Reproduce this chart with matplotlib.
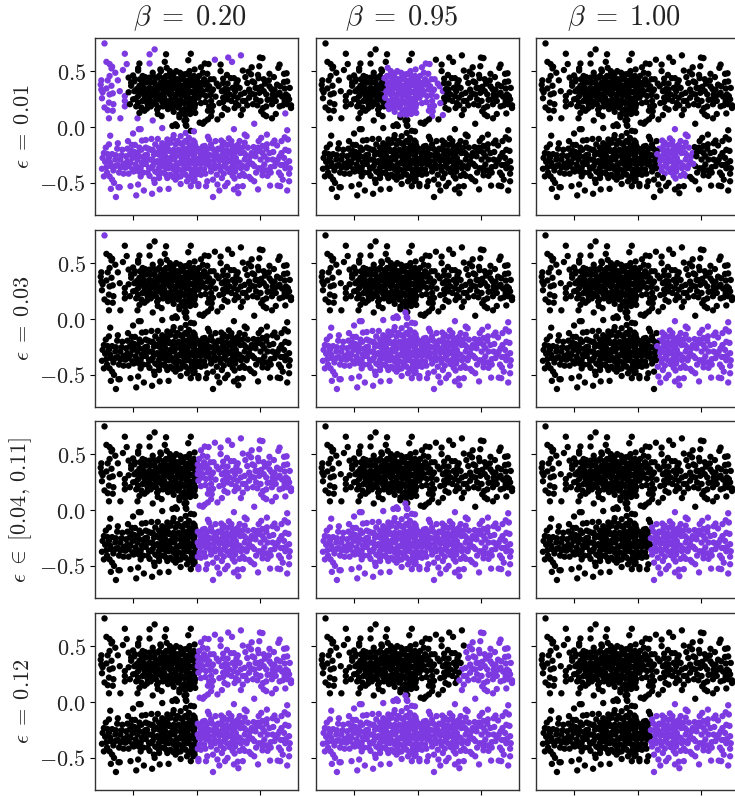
import numpy as np
import matplotlib
matplotlib.use("Agg")
import matplotlib.pyplot as plt

plt.rcParams['mathtext.fontset'] = 'cm'
plt.rcParams['font.family'] = ['DejaVu Serif']

BLACK = '#000000'
PURPLE = '#7c3ae0'

betas = ['0.20', '0.95', '1.00']
eps_labels = [r'$\epsilon\;=\;0.01$', r'$\epsilon\;=\;0.03$',
              r'$\epsilon\;\in\;[0.04,\,0.11]$', r'$\epsilon\;=\;0.12$']
yticks = [-0.5, 0.0, 0.5]
ytick_labels = [r'$-0.5$', r'$0.0$', r'$0.5$']
xticks = [-1, 0, 1]

# readings were taken with a 108.5 px ruler; the axis unit is 111.5 px
READING_SCALE = 108.5 / 111.5

upper_left = [
 (-1.45,.77),(-1.13,.675),(-.74,.67),(-.66,.715),(-.48,.67),(-.09,.675),(-.13,.615),(-1.42,.60),(-1.37,.58),(-1.33,.555),
 (-1.34,.54),(-1.10,.58),(-1.16,.525),(-.90,.585),(-.92,.54),(-.74,.585),(-.50,.60),(-.47,.545),(-.57,.53),(-1.50,.43),
 (-1.51,.39),(-1.50,.345),(-1.37,.47),(-1.40,.43),(-1.28,.50),(-1.24,.43),(-1.34,.38),(-1.48,.32),(-1.49,.265),(-1.42,.355),
 (-1.37,.30),(-1.32,.31),(-1.21,.33),(-1.13,.285),(-1.13,.24),(-1.13,.19),(-1.31,.21),(-1.38,.225),(-1.45,.18),(-1.40,.155),
 (-1.32,.15),(-1.38,.08),(-1.20,.08),(-.93,.08),(-.69,.06),(-.61,.12),(-.55,.10),(-.27,.09),(-.16,.065),
 (-1.07,.455),(-1.0,.475),(-.92,.52),(-.85,.47),(-1.03,.41),(-.98,.33),(-1.0,.255),(-.95,.19),(-.87,.18),(-.85,.24),(-.92,.285),
 (-.90,.38),(-.79,.41),(-.74,.455),(-.79,.32),(-.74,.36),(-.74,.255),(-.66,.285),(-.72,.19),(-.64,.21),(-.61,.455),(-.56,.515),
 (-.66,.41),(-.58,.355),(-.50,.38),(-.42,.515),(-.32,.515),(-.48,.47),(-.37,.455),(-.45,.315),(-.37,.36),(-.56,.27),(-.48,.24),
 (-.40,.255),(-.45,.165),(-.32,.30),(-.27,.44),(-.19,.485),(-.11,.515),(-.03,.53),(-.215,.38),(-.14,.425),(-.06,.455),(-.005,.39),
 (-.11,.33),(-.03,.33),(-.24,.24),(-.16,.27),(-.08,.255),(-.005,.285),(-.29,.18),(-.19,.165),(-.11,.19),(-.03,.18),(-.27,.115),
 (-.14,.13),(-.35,.41),(-.27,.33),(-.50,.425),(-.40,.425),(-.635,.33),(-.845,.33),(-.92,.225),(-.82,.15),(-1.05,.21),(-1.07,.32),
 (-1.03,.38),(-.32,.225),(-.40,.19),(-.53,.19),(-.61,.255),(-.66,.35),(-.56,.41),(-.425,.38),(-.32,.36),(-.16,.345),(-.24,.485),
 (-.69,.50),(-.82,.285),(-.90,.13),(-.84,.42),(-.70,.30),(-.52,.31),(-.60,.18),(-.36,.14),(-.22,.30),(-.08,.40),(-.04,.24),
 (-.13,.22),(-.42,.30),(-.28,.40),(-.18,.43),(-.62,.38),(-.77,.21),(-.88,.35),(-.97,.44),(-.10,.47),(-.02,.44),(-.35,.21),
 (-.98,.42),(-.94,.35),(-.96,.26),(-.90,.31),(-.89,.44),(-.86,.40),(-.83,.36),(-.81,.46),(-.80,.24),(-.78,.17),(-.76,.30),(-.72,.41),
 (-.71,.33),(-.69,.23),(-.67,.46),(-.65,.37),(-.63,.27),(-.62,.16),(-.59,.47),(-.58,.30),(-.55,.36),(-.54,.23),(-.52,.45),(-.51,.27),
 (-.49,.33),(-.47,.20),(-.46,.41),(-.44,.47),(-.43,.35),(-.42,.23),(-.39,.31),(-.38,.17),(-.36,.49),(-.34,.39),(-.33,.27),(-.31,.44),
 (-.30,.34),(-.29,.24),(-.27,.20),(-.26,.50),(-.25,.37),(-.24,.29),(-.23,.15),(-.21,.44),(-.20,.33),(-.19,.22),(-.18,.11),(-.17,.38),
 (-.15,.49),(-.14,.30),(-.13,.17),(-.12,.38),(-.11,.26),(-.10,.12),(-.09,.44),(-.08,.32),(-.07,.21),(-.06,.15),(-.05,.38),(-.04,.47),
 (-.03,.28),(-.02,.21),(-.01,.35),(-.02,.13),
]

upper_right = [
 (.70,.66),(.50,.64),(.56,.60),(1.00,.64),(1.04,.635),(.29,.62),(.13,.585),(.19,.58),(.07,.55),(.38,.575),(.38,.515),(1.31,.575),
 (1.29,.545),(.73,.52),(.87,.55),(.99,.56),(.82,.51),(.86,.485),(.97,.48),(1.15,.49),(1.22,.46),(1.38,.49),(1.42,.495),(.10,.50),
 (.17,.49),(.48,.48),(.42,.445),(.27,.44),(.54,.45),(.59,.45),(.65,.43),(.80,.405),(.91,.41),(.98,.45),(1.08,.40),(1.15,.375),
 (1.43,.42),(1.38,.415),(1.27,.39),(1.32,.375),(.20,.375),(.13,.39),(.08,.405),(.35,.375),(.42,.405),(.49,.40),(.60,.365),(.70,.30),
 (.76,.315),(.83,.345),(.93,.36),(1.02,.37),(1.23,.345),(1.39,.355),(.10,.33),(.18,.345),(.26,.345),(.40,.33),(.49,.345),(.61,.33),
 (.99,.315),(.91,.30),(1.10,.30),(1.20,.30),(1.31,.315),(1.44,.285),(1.46,.255),(.15,.285),(.22,.295),(.42,.27),(.49,.255),(.59,.285),
 (.65,.27),(.83,.27),(.94,.255),(1.01,.24),(1.17,.255),(1.23,.285),(1.39,.24),(.23,.24),(.42,.23),(.62,.22),(.73,.24),(.89,.21),
 (1.19,.21),(1.31,.19),(1.49,.20),(1.49,.175),(1.43,.21),(.20,.19),(.26,.195),(.44,.175),(.49,.16),(.60,.175),(.73,.16),(1.05,.175),
 (1.10,.19),(1.02,.145),(.18,.15),(.24,.145),(.70,.11),(1.06,.115),(1.10,.10),(1.19,.08),(1.25,.12),(1.40,.125),(.23,.10),(.18,.07),
 (.40,.11),(.33,.07),(.05,.04),(.10,.03),(.13,.05),(.91,.03),(.02,.42),(.02,.33),(.03,.27),(.04,.47),(.06,.36),(.07,.22),
 (.03,.37),(.08,.30),(.12,.44),(.14,.23),(.16,.41),(.22,.44),(.24,.33),(.30,.28),(.32,.40),(.36,.22),(.45,.35),(.47,.30),(.52,.30),
 (.55,.24),(.57,.36),(.63,.40),(.66,.20),(.68,.36),(.77,.24),(.80,.20),(.86,.31),(.88,.42),(.96,.36),(.96,.20),(1.06,.33),(1.12,.25),
 (1.14,.43),(1.25,.24),(1.28,.30),(1.35,.28),(1.36,.20),(1.41,.30),(1.47,.36),(1.06,.44),(.77,.46),(1.18,.35),
]

lower_left = [
 (-.19,.06),(-.17,.02),(-.16,.01),(-.33,.025),(-.91,-.02),(-.88,-.02),(-.54,-.01),(-.38,.01),(-.31,.01),(-1.36,-.08),(-1.0,-.06),(-1.08,-.13),
 (-1.24,-.15),(-.86,-.125),(-.80,-.12),(-.71,-.11),(-.61,-.11),(-.46,-.115),(-.36,-.075),(-.37,-.105),(-.25,-.085),(-.17,-.055),
 (-.09,-.035),(-.04,-.04),(-.05,-.125),(-.18,-.13),(-.41,-.145),(-.33,-.16),(-1.38,-.16),(-1.43,-.19),(-1.46,-.24),(-1.48,-.285),
 (-1.44,-.32),(-1.49,-.385),(-1.46,-.455),(-1.41,-.42),(-1.37,-.455),(-1.33,-.485),(-1.30,-.515),(-1.22,-.42),(-1.20,-.375),(-1.28,-.36),
 (-1.35,-.36),(-1.38,-.285),(-1.33,-.25),(-1.28,-.30),(-1.20,-.30),(-1.25,-.20),(-1.17,-.21),(-1.09,-.20),(-1.02,-.22),(-.97,-.165),
 (-.93,-.24),(-1.01,-.285),(-1.09,-.315),(-.96,-.345),(-1.07,-.36),(-1.12,-.375),(-.88,-.375),(-.83,-.34),(-.93,-.30),(-1.07,-.43),
 (-.88,-.455),(-.74,-.45),(-.66,-.515),(-.67,-.485),(-.59,-.47),(-.46,-.47),(-.25,-.525),(-.09,-.545),(-1.35,-.57),(-1.23,-.555),
 (-1.21,-.555),(-1.27,-.645),(-1.04,-.545),(-.92,-.53),(-.95,-.63),(-.83,-.585),(-.70,-.615),(-.58,-.575),(-.44,-.57),
 (-.72,-.21),(-.78,-.255),(-.67,-.255),(-.80,-.19),(-.59,-.19),(-.51,-.19),(-.46,-.16),(-.59,-.255),(-.51,-.24),(-.44,-.22),(-.36,-.21),
 (-.28,-.21),(-.20,-.20),(-.12,-.19),(-.04,-.21),(-.70,-.30),(-.62,-.315),(-.51,-.30),(-.41,-.285),(-.33,-.27),(-.25,-.27),(-.17,-.27),
 (-.12,-.25),(-.04,-.27),(-.69,-.36),(-.59,-.375),(-.48,-.375),(-.39,-.36),(-.31,-.345),(-.22,-.34),(-.13,-.36),(-.04,-.33),(-.59,-.44),
 (-.51,-.42),(-.41,-.44),(-.32,-.42),(-.25,-.455),(-.17,-.44),(-.09,-.455),(-.03,-.485),(-.15,-.50),(-.33,-.485),(-.78,-.30),(-.91,-.41),
 (-.75,-.375),(-.99,-.41),(-.83,-.285),(-.90,-.19),(-1.02,-.165),(-.02,-.39),(-.09,-.39),(-.20,-.39),(-.28,-.39),(-.36,-.39),(-.23,-.30),
 (-.15,-.31),(-.04,-.30),(-.46,-.33),(-.54,-.33),(-.65,-.41),(-.30,-.13),(-.22,-.16),(-.12,-.10),(-.54,-.15),(-.65,-.16),(-.03,-.14),
 (-1.40,-.25),(-1.36,-.33),(-1.42,-.37),(-1.31,-.40),(-1.27,-.26),(-1.24,-.35),(-1.18,-.26),(-1.15,-.34),(-1.15,-.43),(-1.11,-.27),
 (-1.05,-.25),(-1.04,-.33),(-1.01,-.39),(-.98,-.23),(-.96,-.28),(-.94,-.37),(-.90,-.27),(-.87,-.21),(-.86,-.33),(-.84,-.42),(-.81,-.26),
 (-.80,-.34),(-.77,-.42),(-.76,-.20),(-.74,-.30),(-.72,-.38),(-.69,-.21),(-.67,-.33),(-.63,-.24),(-.62,-.42),(-.60,-.33),(-.57,-.22),
 (-.55,-.29),(-.55,-.42),(-.52,-.36),(-.49,-.27),(-.48,-.44),(-.45,-.20),(-.44,-.38),(-.42,-.31),(-.38,-.24),(-.37,-.46),(-.35,-.30),
 (-.33,-.36),(-.31,-.22),(-.29,-.46),(-.27,-.33),(-.25,-.15),(-.24,-.24),(-.22,-.42),(-.20,-.33),(-.18,-.23),(-.16,-.38),(-.14,-.14),
 (-.13,-.30),(-.12,-.47),(-.10,-.22),(-.09,-.33),(-.07,-.17),(-.07,-.42),(-.05,-.50),(-.03,-.24),(-.02,-.35),(-.02,-.17),(-.01,-.44),
]

lower_right = [
 (.59,-.02),(1.43,-.03),(.76,-.07),(.79,-.085),(1.11,-.07),(1.02,-.10),(.98,-.13),(.51,-.105),(.18,-.09),(.20,-.115),(.30,-.13),(.39,-.125),
 (.43,-.145),(.49,-.165),(.68,-.13),(.76,-.145),(.65,-.165),(.57,-.175),(1.23,-.125),(1.39,-.095),(1.34,-.13),(1.44,-.115),(1.20,-.15),
 (1.11,-.16),(1.04,-.175),(.90,-.185),(.97,-.19),(.81,-.19),(.13,-.175),(.17,-.20),(.23,-.16),(.34,-.20),(.39,-.21),(.47,-.215),(.56,-.21),
 (.62,-.20),(.69,-.24),(.75,-.24),(.87,-.24),(.94,-.23),(1.04,-.24),(1.21,-.23),(1.40,-.21),(1.34,-.24),(1.38,-.285),(1.28,-.30),(1.20,-.30),
 (1.12,-.30),(1.01,-.30),(.13,-.24),(.18,-.25),(.26,-.26),(.34,-.27),(.47,-.285),(.57,-.27),(.62,-.285),(.76,-.30),(.83,-.315),(.05,-.285),
 (.10,-.30),(.20,-.315),(.28,-.30),(.39,-.30),(.49,-.32),(.57,-.33),(.68,-.33),(.91,-.36),(1.07,-.345),(1.17,-.37),(1.33,-.35),(1.41,-.34),
 (1.46,-.315),(.07,-.34),(.18,-.345),(.28,-.345),(.36,-.36),(.44,-.36),(.55,-.375),(.62,-.37),(.73,-.36),(.81,-.35),(1.04,-.375),(1.23,-.36),
 (.05,-.39),(.12,-.39),(.23,-.41),(.43,-.43),(.52,-.415),(.61,-.41),(.73,-.43),(1.04,-.41),(1.17,-.42),(1.33,-.445),(1.46,-.43),(.57,-.45),
 (.60,-.475),(.76,-.45),(.83,-.46),(.86,-.48),(.91,-.50),(1.04,-.445),(1.12,-.45),(1.36,-.485),(1.46,-.50),(.26,-.485),(.17,-.50),(.03,-.525),
 (.03,-.545),(.15,-.545),(.33,-.53),(.49,-.515),(.45,-.545),(.73,-.545),(.65,-.55),(.59,-.575),(.66,-.61),(.36,-.585),(.97,-.575),(1.16,-.54),
 (1.28,-.54),(1.32,-.545),(1.43,-.585),(.26,-.645),(.02,-.20),(.02,-.30),(.02,-.43),(.08,-.22),(.15,-.34),(.30,-.22),(.48,-.38),(.68,-.45),
 (.04,-.33),(.06,-.24),(.07,-.44),(.10,-.18),(.11,-.26),(.14,-.43),(.16,-.30),(.21,-.26),(.22,-.37),(.25,-.20),(.29,-.38),(.31,-.25),
 (.32,-.44),(.36,-.31),(.38,-.40),(.41,-.17),(.42,-.25),(.45,-.33),(.51,-.24),(.53,-.30),(.55,-.13),(.60,-.24),(.64,-.32),(.66,-.22),
 (.70,-.38),(.72,-.19),(.78,-.26),(.79,-.38),(.85,-.27),(.88,-.34),(.93,-.27),(.98,-.38),(1.00,-.22),(1.07,-.27),(1.10,-.20),(1.11,-.40),
 (1.15,-.24),(1.25,-.33),(1.27,-.17),(1.30,-.42),(1.31,-.27),(1.37,-.35),(1.40,-.38),(1.45,-.22),(1.47,-.38),(.94,-.42),(.58,-.38),(.40,-.47),
]

# upper-cloud points that stay purple in the top-left panel although inside the black region
first_panel_extras = [(-.74,.67),(-.66,.715),(-.74,.585),(.29,.62),(.50,.64),(.56,.60),(.70,.66),(-.93,.08),(-.69,.06),
                      (.91,.03),(1.40,.125)]

upper_points = upper_left + upper_right
lower_points = lower_left + lower_right
upper = np.array(upper_points)
lower = np.array(lower_points)
xu, yu_read = upper[:, 0], upper[:, 1]
xl, yl_read = lower[:, 0], lower[:, 1]
yu = yu_read * READING_SCALE
yl = yl_read * READING_SCALE
extra = np.array([p in first_panel_extras for p in upper_points])

none_u, all_u = np.zeros(len(xu), bool), np.ones(len(xu), bool)
none_l, all_l = np.zeros(len(xl), bool), np.ones(len(xl), bool)
corner = (xu == -1.45) & (yu_read == .77)
bridge = (xl > -.45) & (xl < -.05) & (yl > -.05)
blob_u = (xu > -.53) & (xu < .41) & (yu > .09) & (yu < .57) & ~((xu > .2) & (yu > .47))

selections = [
    [(xu < -1.09) | extra, ~bridge],
    [blob_u, none_l],
    [none_u, ((xl - .60) / .30) ** 2 + ((yl + .25) / .24) ** 2 < 1],
    [corner, none_l],
    [none_u, all_l],
    [none_u, xl > .30],
    [xu > 0, xl > 0],
    [none_u, all_l],
    [none_u, xl > .20],
    [xu > 0, xl > 0],
    [xu > .60 + .30 * yu, all_l],
    [none_u, xl > .20],
]

title_x = [.468, .424, .433]

W, H = 735, 797
fig = plt.figure(figsize=(W / 100, H / 100), dpi=100)
lefts = [95, 316, 536]
tops = [38, 230, 421, 613]
aw, ah = 203, 177

x_all = np.concatenate([xu, xl])
y_all = np.concatenate([yu, yl])
for r, top in enumerate(tops):
    for c, left in enumerate(lefts):
        ax = fig.add_axes([left / W, 1 - (top + ah) / H, aw / W, ah / H])
        su, sl = selections[r * 3 + c]
        purple = np.concatenate([su, sl])
        colors = np.where(purple, PURPLE, BLACK)
        ax.scatter(x_all, y_all, s=21, c=colors, linewidths=0, zorder=3)
        ax.set_xlim(-1.6, 1.6)
        ax.set_ylim(-0.789, 0.798)
        ax.set_xticks(xticks)
        ax.set_xticklabels([])
        ax.set_yticks(yticks)
        if c == 0:
            ax.set_yticklabels(ytick_labels, fontsize=16, color='#222222')
            ax.set_ylabel(eps_labels[r], fontsize=16, color='#222222', labelpad=4)
        else:
            ax.set_yticklabels([])
        ax.tick_params(length=3.5, width=0.8, pad=3)
        for s in ax.spines.values():
            s.set_linewidth(1.0)
            s.set_color('#333333')
        if r == 0:
            ax.set_title(rf'$\beta\;=\;{betas[c]}$', fontsize=20.5, pad=9, color='#222222', x=title_x[c])

fig.savefig('out.png', dpi=100)
